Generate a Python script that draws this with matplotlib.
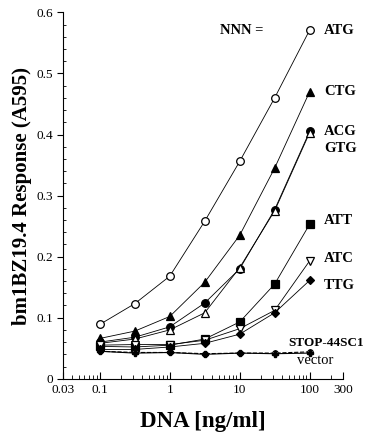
import numpy as np
import matplotlib
matplotlib.use('Agg')
import matplotlib.pyplot as plt

plt.rcParams['font.family'] = ['Liberation Serif', 'DejaVu Serif']

dna = [0.1, 0.316, 1, 3.16, 10, 31.6, 100]

atg = [0.089, 0.123, 0.168, 0.258, 0.356, 0.460, 0.571]
ctg = [0.066, 0.078, 0.102, 0.158, 0.235, 0.345, 0.470]
acg = [0.060, 0.068, 0.085, 0.124, 0.180, 0.277, 0.405]
gtg = [0.058, 0.065, 0.080, 0.108, 0.182, 0.275, 0.403]
att = [0.053, 0.052, 0.055, 0.065, 0.093, 0.155, 0.253]
atc = [0.055, 0.056, 0.056, 0.063, 0.082, 0.112, 0.193]
ttg = [0.048, 0.048, 0.052, 0.058, 0.073, 0.108, 0.161]
stop = [0.045, 0.043, 0.043, 0.041, 0.042, 0.042, 0.044]
vector = [0.045, 0.042, 0.043, 0.040, 0.042, 0.041, 0.042]

# (nome, valores, marcador, cheio, y do rotulo)
series = [
    ('ATG', atg, 'o', False, 0.571),
    ('CTG', ctg, '^', True, 0.470),
    ('ACG', acg, 'o', True, 0.405),
    ('GTG', gtg, '^', False, 0.377),
    ('ATT', att, 's', True, 0.260),
    ('ATC', atc, 'v', False, 0.197),
    ('TTG', ttg, 'D', True, 0.153),
]

fig = plt.figure(figsize=(3.68, 4.44), dpi=100)
ax = fig.add_axes([0.172, 0.147, 0.760, 0.825])

for nome, vals, mk, cheio, ylab in series:
    ms = 5.5 if mk != 'D' else 4
    ax.plot(dna, vals, color='black', lw=0.6, marker=mk, ms=ms,
            mfc='black' if cheio else 'white', mec='black', mew=0.9)
    ax.text(160, ylab, nome, fontsize=10.5, fontweight='bold', va='center', ha='left')

ax.plot(dna, stop, color='black', lw=0.8, ls='--', marker='o', ms=4, mfc='white', mec='black', mew=0.8)
ax.plot(dna, stop, ls='none', marker='+', ms=5, mec='black', mew=0.8)
ax.plot(dna, vector, color='black', lw=0.8, marker='P', ms=4, mfc='black', mec='black')

ax.text(50, 0.058, 'STOP-44SC1', fontsize=9.5, fontweight='bold', va='center', ha='left')
ax.text(66, 0.030, 'vector', fontsize=10.5, va='center', ha='left')
ax.text(5.2, 0.571, 'NNN =', fontsize=10.5, fontweight='bold', va='center', ha='left')

ax.set_xscale('log')
ax.set_xlim(0.03, 300)
ax.set_ylim(0, 0.6)
ax.set_xticks([0.03, 0.1, 1, 10, 100, 300])
ax.set_xticklabels(['0.03', '0.1', '1', '10', '100', '300'])
ax.set_yticks([0, 0.1, 0.2, 0.3, 0.4, 0.5, 0.6])
ax.set_yticklabels(['0', '0.1', '0.2', '0.3', '0.4', '0.5', '0.6'])
ax.set_yticks(np.arange(0, 0.61, 0.02), minor=True)
ax.tick_params(axis='x', which='both', direction='in', labelsize=9.5)
ax.tick_params(axis='x', which='major', length=5)
ax.tick_params(axis='x', which='minor', length=3)
ax.tick_params(axis='y', which='major', direction='out', length=4, labelsize=9.5)
ax.tick_params(axis='y', which='minor', direction='in', length=2)

ax.spines['top'].set_visible(False)
ax.spines['right'].set_visible(False)
ax.set_ylabel('bm1BZ19.4 Response (A595)', fontsize=15, fontweight='bold', labelpad=3)
ax.set_xlabel('DNA [ng/ml]', fontsize=16.5, fontweight='bold', labelpad=11)

plt.savefig('out.png', dpi=100)
